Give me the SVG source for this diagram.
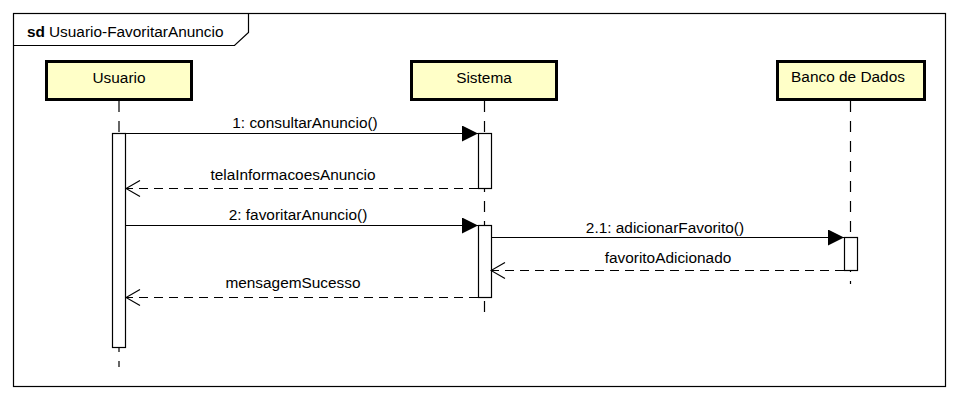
<svg xmlns="http://www.w3.org/2000/svg" width="958" height="400" viewBox="0 0 958 400">
<style>
  text { font-family: "Liberation Sans", Arial, sans-serif; font-size: 15.4px; fill: #000; }
  .head { fill: #FFFFC8; stroke: #000; stroke-width: 3; }
  .life { stroke: #000; stroke-width: 1.2; stroke-dasharray: 11 9; fill: none; }
  .act { fill: #fff; stroke: #000; stroke-width: 1.2; }
  .msg { stroke: #000; stroke-width: 1.2; fill: none; }
  .ret { stroke: #000; stroke-width: 1.2; fill: none; stroke-dasharray: 9 6; }
  .lbl { text-anchor: middle; }
</style>
<defs>
  <marker id="filled" markerWidth="16" markerHeight="16" refX="16" refY="8" orient="auto" markerUnits="userSpaceOnUse">
    <path d="M0,0 L16,8 L0,16 Z" fill="#000"/>
  </marker>
  <marker id="open" markerWidth="16" markerHeight="18" refX="15" refY="9" orient="auto" markerUnits="userSpaceOnUse">
    <path d="M1,1 L15,9 L1,17" fill="none" stroke="#000" stroke-width="1.2"/>
  </marker>
</defs>
<rect width="958" height="400" fill="#fff"/>
<g id="frame">
  <rect x="13.5" y="13.5" width="932" height="373" fill="none" stroke="#000" stroke-width="1.2"/>
  <path d="M13.5,45.5 L234.5,45.5 L248.5,32.5 L248.5,13.5" fill="none" stroke="#000" stroke-width="1.2"/>
  <text x="27" y="37" font-weight="bold">sd</text>
  <text x="49" y="37">Usuario-FavoritarAnuncio</text>
</g>
<g id="lifelines">
  <line class="life" x1="119" y1="101" x2="119" y2="367"/>
  <line class="life" x1="484.5" y1="101" x2="484.5" y2="318"/>
  <line class="life" x1="850.5" y1="101" x2="850.5" y2="284"/>
</g>
<g id="Usuario">
  <rect class="head" x="46.5" y="61.5" width="145" height="38"/>
  <text class="lbl" x="119" y="83">Usuario</text>
  <rect class="act" x="112.5" y="133.5" width="13" height="214"/>
</g>
<g id="Sistema">
  <rect class="head" x="411.5" y="61.5" width="145" height="38"/>
  <text class="lbl" x="484" y="83">Sistema</text>
  <rect class="act" x="478.5" y="133.5" width="13" height="55"/>
  <rect class="act" x="478.5" y="225.5" width="13" height="72"/>
</g>
<g id="BancoDeDados">
  <rect class="head" x="777.5" y="61.5" width="147" height="38"/>
  <text class="lbl" x="848" y="82">Banco de Dados</text>
  <rect class="act" x="844.5" y="237.5" width="13" height="33"/>
</g>
<g id="connectors">
  <line class="msg" x1="126" y1="133.5" x2="478" y2="133.5" marker-end="url(#filled)"/>
  <text class="lbl" x="305" y="128">1: consultarAnuncio()</text>
  <line class="ret" x1="478" y1="188.5" x2="126" y2="188.5" marker-end="url(#open)"/>
  <text class="lbl" x="293" y="180">telaInformacoesAnuncio</text>
  <line class="msg" x1="126" y1="225.5" x2="478" y2="225.5" marker-end="url(#filled)"/>
  <text class="lbl" x="298" y="220">2: favoritarAnuncio()</text>
  <line class="msg" x1="491" y1="237.5" x2="844" y2="237.5" marker-end="url(#filled)"/>
  <text class="lbl" x="665" y="233">2.1: adicionarFavorito()</text>
  <line class="ret" x1="844" y1="270.5" x2="491" y2="270.5" marker-end="url(#open)"/>
  <text class="lbl" x="668" y="263">favoritoAdicionado</text>
  <line class="ret" x1="478" y1="297.5" x2="126" y2="297.5" marker-end="url(#open)"/>
  <text class="lbl" x="293" y="288">mensagemSucesso</text>
</g>
</svg>
